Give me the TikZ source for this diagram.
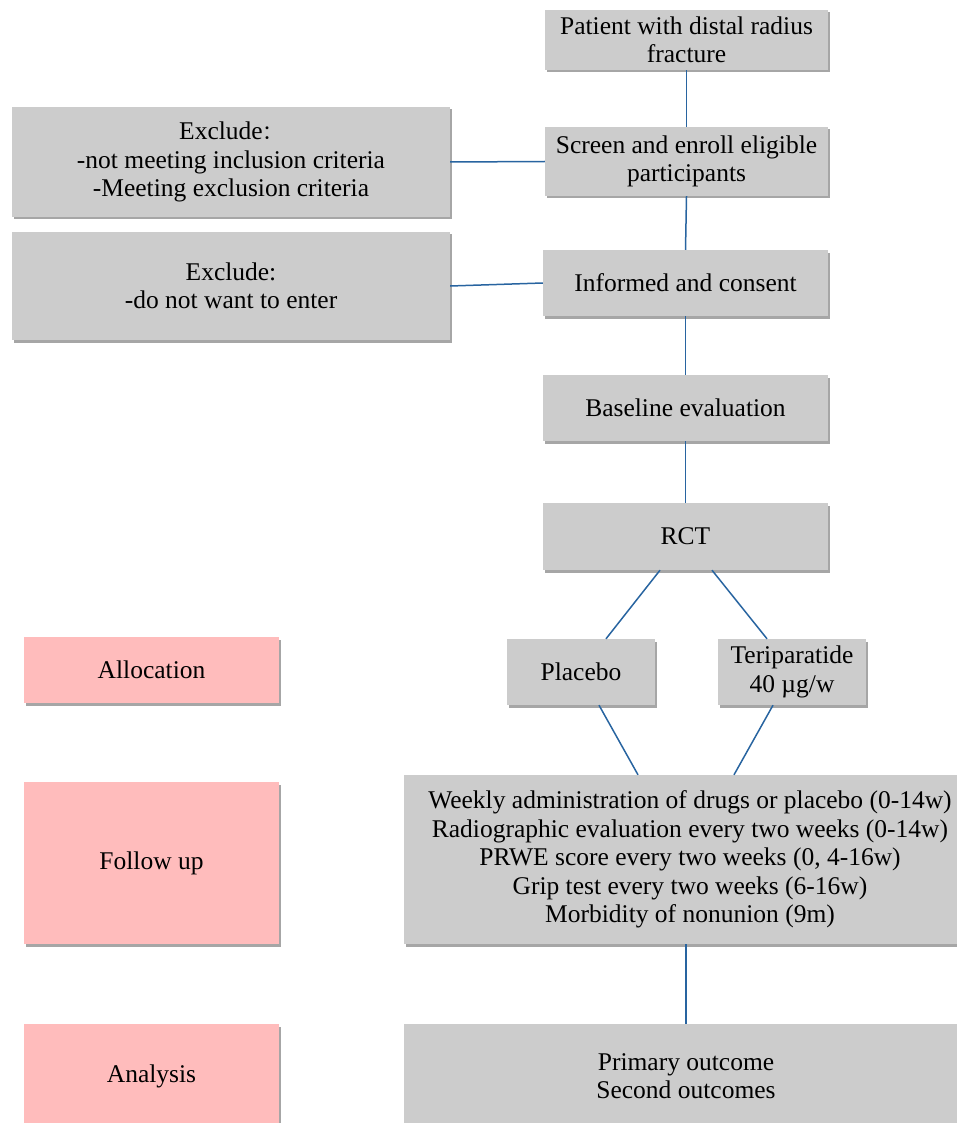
\documentclass[tikz,border=0pt]{standalone}
\usepackage{fontspec}
\setmainfont{Liberation Serif}
\newfontfamily\cjkf{Noto Sans CJK SC}
\usetikzlibrary{shadows,calc}
\definecolor{boxgray}{RGB}{204,204,204}
\definecolor{boxpink}{RGB}{255,188,188}
\definecolor{lineblue}{RGB}{40,100,160}
\tikzset{
  gbox/.style={fill=boxgray, draw=none, align=center, inner sep=2pt,
    drop shadow={shadow xshift=1.5pt, shadow yshift=-2.5pt, fill=black, opacity=0.35}},
  pbox/.style={gbox, fill=boxpink},
  conn/.style={draw=lineblue, line width=1.5pt}
}
\begin{document}
\begin{tikzpicture}[x=1pt,y=-1pt,font=\fontsize{25.5}{28.5}\selectfont]
\useasboundingbox (0,0) rectangle (957,1123);
\clip (0,0) rectangle (957,1123);
\node[gbox, minimum width=283, minimum height=60] (patient) at (686.5,40) {Patient with distal radius\\fracture};
\node[gbox, minimum width=283, minimum height=69] (screen) at (686.5,161.5) {Screen and enroll eligible\\participants};
\node[gbox, minimum width=438, minimum height=110] (ex1) at (231,162) {Exclude{\cjkf\fontsize{20}{28}\selectfont ：}\\-not meeting inclusion criteria\\-Meeting exclusion criteria};
\node[gbox, minimum width=438, minimum height=108] (ex2) at (231,286) {Exclude:\\-do not want to enter};
\node[gbox, minimum width=285, minimum height=66] (informed) at (685.5,283) {Informed and consent};
\node[gbox, minimum width=285, minimum height=66] (baseline) at (685.5,408) {Baseline evaluation};
\node[gbox, minimum width=285, minimum height=67] (rct) at (685.5,536.5) {RCT};
\node[gbox, minimum width=148, minimum height=66] (placebo) at (581,672) {Placebo};
\node[gbox, minimum width=148, minimum height=66] (teri) at (792,672) {Teriparatide\\40 µg/w};
\node[gbox, minimum width=572, minimum height=169] (follow) at (690,859.5) {Weekly administration of drugs or placebo (0-14w)\\Radiographic evaluation every two weeks (0-14w)\\PRWE score every two weeks (0, 4-16w)\\Grip test every two weeks (6-16w)\\Morbidity of nonunion (9m)};
\node[gbox, minimum width=564, minimum height=104] (analysis) at (686,1076) {Primary outcome\\Second outcomes};
\node[pbox, minimum width=255, minimum height=66] (allocP) at (151.5,670) {Allocation};
\node[pbox, minimum width=255, minimum height=162] (followP) at (151.5,863) {Follow up};
\node[pbox, minimum width=255, minimum height=104] (analysisP) at (151.5,1076) {Analysis};
\draw[conn] (patient.south) -- (screen.north);
\draw[conn] (screen.south) -- (informed.north);
\draw[conn] (informed.south) -- (baseline.north);
\draw[conn] (baseline.south) -- (rct.north);
\draw[conn] (ex1.east) -- (screen.west);
\draw[conn] (ex2.east) -- (informed.west);
\draw[conn] ($(rct.south)+(-25.5,0)$) -- ($(placebo.north)+(25,0)$);
\draw[conn] ($(rct.south)+(26.5,0)$) -- ($(teri.north)+(-25,0)$);
\draw[conn] ($(placebo.south)+(18,0)$) -- ($(follow.north)+(-52,0)$);
\draw[conn] ($(teri.south)+(-19,0)$) -- ($(follow.north)+(44,0)$);
\draw[conn] ($(follow.south)+(-4,0)$) -- ($(analysis.north)+(0,0)$);
\end{tikzpicture}
\end{document}
